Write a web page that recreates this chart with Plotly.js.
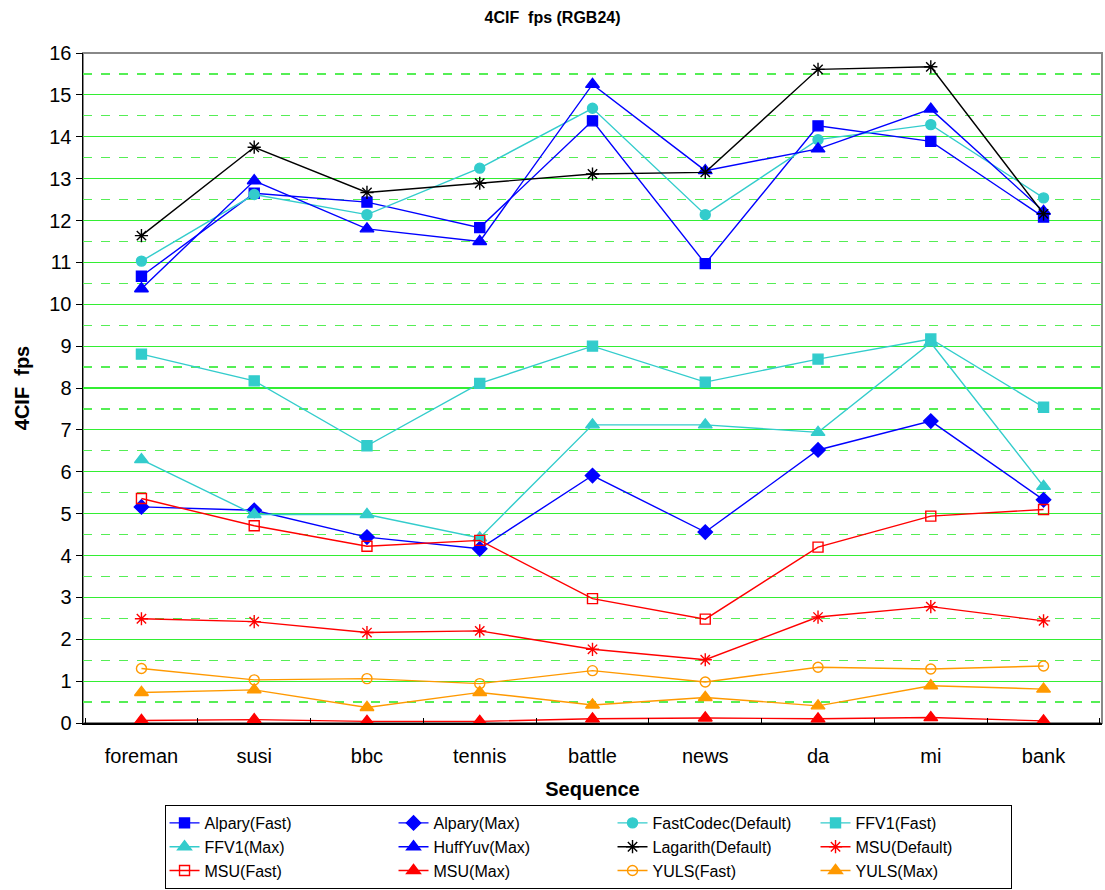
<!DOCTYPE html>
<html>
<head>
<meta charset="utf-8">
<script src="https://cdn.plot.ly/plotly-3.0.1.min.js"></script>
<style>html,body{margin:0;padding:0;background:#fff;}#chart{width:1105px;height:890px;}</style>
</head>
<body>
<div id="chart"></div>
<script>
const sequences = ["foreman","susi","bbc","tennis","battle","news","da","mi","bank"];

const alparyFast     = [10.67, 12.65, 12.44, 11.83, 14.38, 10.97, 14.26, 13.89, 12.08];
const alparyMax      = [5.16, 5.08, 4.44, 4.16, 5.91, 4.56, 6.52, 7.21, 5.33];
const fastCodecDef   = [11.03, 12.62, 12.14, 13.25, 14.68, 12.14, 13.93, 14.29, 12.54];
const ffv1Fast       = [8.81, 8.17, 6.62, 8.11, 9.00, 8.14, 8.69, 9.17, 7.54];
const ffv1Max        = [6.29, 4.98, 4.98, 4.42, 7.12, 7.12, 6.94, 9.08, 5.65];
const huffYuvMax     = [10.37, 12.95, 11.80, 11.50, 15.25, 13.19, 13.71, 14.66, 12.22];
const lagarithDef    = [11.64, 13.75, 12.67, 12.89, 13.11, 13.15, 15.61, 15.67, 12.16];
const msuDef         = [2.49, 2.42, 2.16, 2.20, 1.76, 1.51, 2.53, 2.78, 2.44];
const msuFast        = [5.36, 4.71, 4.22, 4.36, 2.97, 2.48, 4.20, 4.94, 5.10];
const msuMax         = [0.06, 0.08, 0.04, 0.04, 0.10, 0.12, 0.10, 0.13, 0.05];
const yulsFast       = [1.30, 1.03, 1.06, 0.94, 1.25, 0.98, 1.33, 1.29, 1.36];
const yulsMax        = [0.73, 0.79, 0.37, 0.73, 0.43, 0.61, 0.41, 0.89, 0.81];

const seriesNames = ["Alpary(Fast)","Alpary(Max)","FastCodec(Default)","FFV1(Fast)",
                     "FFV1(Max)","HuffYuv(Max)","Lagarith(Default)","MSU(Default)",
                     "MSU(Fast)","MSU(Max)","YULS(Fast)","YULS(Max)"];
const seriesValues = [alparyFast, alparyMax, fastCodecDef, ffv1Fast,
                      ffv1Max, huffYuvMax, lagarithDef, msuDef,
                      msuFast, msuMax, yulsFast, yulsMax];

const BLUE = "#0000FF", CYAN = "#33CCCC", BLACK = "#000000", RED = "#FF0000", ORANGE = "#FF9900";
const styles = [
  {color: BLUE,   symbol: "square",         size: 10},
  {color: BLUE,   symbol: "diamond",        size: 11},
  {color: CYAN,   symbol: "circle",         size: 10},
  {color: CYAN,   symbol: "square",         size: 10},
  {color: CYAN,   symbol: "triangle-up",    size: 12},
  {color: BLUE,   symbol: "triangle-up",    size: 12},
  {color: BLACK,  symbol: "asterisk-open",  size: 11},
  {color: RED,    symbol: "asterisk-open",  size: 11},
  {color: RED,    symbol: "square-open",    size: 10},
  {color: RED,    symbol: "triangle-up",    size: 12},
  {color: ORANGE, symbol: "circle-open",    size: 10},
  {color: ORANGE, symbol: "triangle-up",    size: 12}
];
const colWidths = [184, 174, 158, 150];

const traces = seriesNames.map((name, i) => ({
  type: "scatter",
  mode: "lines+markers",
  name: name,
  x: sequences,
  y: seriesValues[i],
  legendgroup: "col" + (i % 4),
  legendwidth: colWidths[i % 4],
  line: {color: styles[i].color, width: 1.4},
  marker: {color: styles[i].color, symbol: styles[i].symbol, size: styles[i].size,
           line: {color: styles[i].color, width: 1.4}}
}));

const FONT = "Liberation Sans, Arial, sans-serif";
const GREEN = "#33EE33";

const layout = {
  width: 1105, height: 890,
  margin: {l: 83, r: 3, t: 53, b: 167},
  paper_bgcolor: "#ffffff",
  plot_bgcolor: "#ffffff",
  font: {family: FONT, color: "#000000"},
  showlegend: true,
  title: {text: "<b>4CIF  fps (RGB24)</b>", font: {family: FONT, size: 16, color: "#000"},
          x: 0.5, xref: "container", y: 0.981, yref: "container", yanchor: "middle"},
  xaxis: {
    type: "category",
    showline: true, linecolor: "#000", linewidth: 1.5,
    ticks: "inside", tickson: "boundaries", ticklen: 5, tickcolor: "#000",
    showgrid: false, zeroline: false,
    ticklabelstandoff: 14,
    tickfont: {family: FONT, size: 20, color: "#000"},
    title: {text: "<b>Sequence</b>", font: {family: FONT, size: 20, color: "#000"}, standoff: 16}
  },
  yaxis: {
    range: [0, 16], dtick: 1, tick0: 0,
    showline: true, linecolor: "#000", linewidth: 1.5,
    ticks: "outside", ticklen: 6, tickcolor: "#000",
    showgrid: true, gridcolor: GREEN, gridwidth: 1.2,
    zeroline: false,
    tickfont: {family: FONT, size: 20, color: "#000"},
    minor: {dtick: 0.5, tick0: 0, showgrid: true, gridcolor: "#55EE55", griddash: "dash", gridwidth: 1.2, ticks: ""},
    title: {text: "<b>4CIF  fps</b>", font: {family: FONT, size: 20, color: "#000"}, standoff: 14}
  },
  legend: {
    orientation: "h",
    x: 0.08, xanchor: "left",
    yref: "container", y: 0.0955, yanchor: "top",
    bgcolor: "#ffffff", bordercolor: "#000", borderwidth: 1,
    font: {family: FONT, size: 16, color: "#000"},
    traceorder: "grouped",
    tracegroupgap: 0,
    itemclick: false
  },
  shapes: [{
    type: "rect", xref: "paper", yref: "paper", x0: 0, x1: 1, y0: 0, y1: 1,
    line: {color: "#888888", width: 2}, layer: "below"
  }]
};

Plotly.newPlot("chart", traces, layout, {staticPlot: true, displayModeBar: false});
</script>
</body>
</html>
